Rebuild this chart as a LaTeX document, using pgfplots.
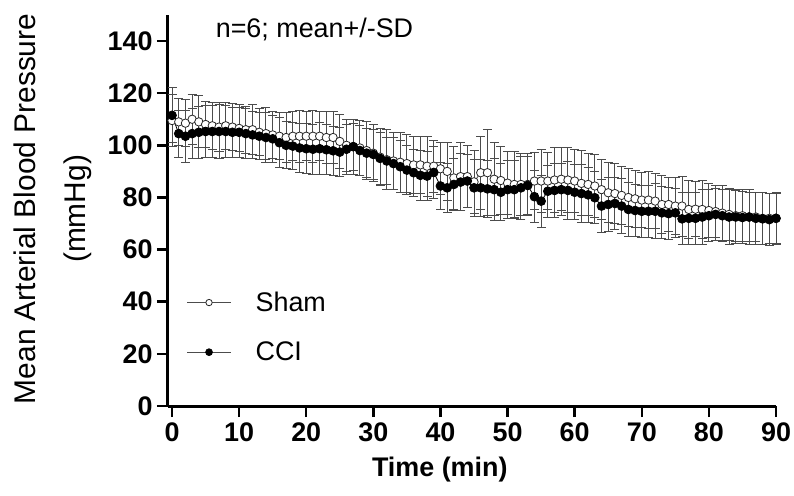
\documentclass[border=0pt]{standalone}
\usepackage{pgfplots}
\usepackage{pgfplotstable}
\pgfplotsset{compat=1.18}
\usepackage{fontspec}
\setmainfont{Liberation Sans}
\pgfplotstableread{
t s sd c cd
0 109.5 10 111.5 10.5
1 109 9 104.5 9
2 108.5 9 103.5 10
3 110 9.5 104.5 9.5
4 109 10 105 10
5 108 9 105.3 10
6 107.5 9 105.3 10
7 107 9.5 105.3 10.5
8 107.5 9 105.3 10
9 107 9 105 9.5
10 106.5 9 105 9.5
11 106 9 104.5 9.5
12 106 9.5 104 9
13 105 9 103.5 9
14 104.5 10 103 9.5
15 104 9 102.5 9
16 103.5 9 101 9.5
17 103 9.5 100 9
18 103.5 9.5 99.7 9
19 103.5 10 99 9.5
20 103.5 9.5 98.7 9.5
21 103.5 10 98.5 9.5
22 103.5 9.5 98.7 10
23 103 10 98.3 9.5
24 103 10 97.9 9.5
25 101.5 10.5 97.4 9.5
26 100 10 98.5 9.5
27 99.5 10.5 99.5 9
28 99 10.5 98 9.5
29 98 11 97 9.5
30 97 11 96.5 9.5
31 95.5 11 95 10
32 94.5 11.5 94 9
33 94 11 93 10
34 93.5 11.5 91.8 10
35 93 11 90.5 9.5
36 92.5 11 89.5 9
37 92.5 11 88.5 9.5
38 92 11.5 88.2 9.5
39 92 10 89.6 10
40 91 10 84.4 9
41 90 11 83.7 9.5
42 87.5 12 85 10
43 88 13 85.9 11
44 88 12 86.3 10
45 86 12 83.7 11
46 89.5 14 83.7 11
47 89.5 16.5 83.3 11
48 87 14 83 12
49 86.5 13 82 11
50 85.5 12 83 11
51 85 12.5 83 11
52 85 12 83.7 12
53 85 12 84.6 11
54 86.3 11 80.3 10
55 86.3 12 78.6 10
56 86.3 11 82.4 10
57 86.7 12.5 82.7 10.5
58 87 12 83 10
59 86.7 12.5 82.7 11
60 86.3 12 82 10.5
61 85.4 12.5 81.5 11
62 85 12 81 10.5
63 84.4 12 79.9 10
64 83 11.5 76.7 10
65 81.8 11.5 77.3 10.5
66 81.5 11.5 77.7 10
67 80.8 11 76.7 10.5
68 80 11 75.4 10.5
69 79.5 11 75 10
70 79 10.5 74.7 10
71 79 11 74.7 10
72 78.6 10.5 74.7 10.5
73 77.3 11 74.1 10
74 77.3 10.5 73.8 10
75 76.7 11 74.1 9.5
76 76.7 11.5 71.8 10
77 75.4 11 72 10
78 75.5 10.5 72 10
79 75.4 11 72.5 10.5
80 75 10.5 73 10
81 74.6 10 73.5 10
82 74 10.5 73 10
83 73.5 10 72.5 10.5
84 73 10 72.5 10
85 73 10 72.3 10
86 72.5 9.5 72.5 10.5
87 72.5 9.5 72 10
88 72 10 71.8 10
89 72 9.5 71.5 10
90 72 9.5 72 10
}\data
\definecolor{ebar}{gray}{0.3}
\begin{document}
\begin{tikzpicture}
\begin{axis}[
  scale only axis,
  width=608bp, height=391bp,
  xmin=-0.6, xmax=90, ymin=0, ymax=150,
  axis x line=bottom, axis y line=left,
  axis line style={-, line width=3bp, black},
  xtick={0,10,...,90}, ytick={0,20,...,140},
  tick align=outside, major tick length=11bp,
  tick style={black, line width=2.5bp},
  /pgf/number format/assume math mode=true,
  ticklabel style={font=\fontsize{27}{32}\selectfont\bfseries},
  xticklabel style={yshift=-2bp},
  yticklabel style={xshift=-1bp},
  xlabel={Time (min)},
  xlabel style={font=\fontsize{27}{32}\selectfont\bfseries, at={(axis description cs:0.447,0)}, anchor=center, yshift=-64bp},
  ylabel={Mean Arterial Blood Pressure\\(mmHg)},
  ylabel style={font=\fontsize{30}{50}\selectfont, align=center, at={(axis description cs:0,0.504)}, anchor=center, yshift=115bp},
  legend style={at={(axis description cs:0.03,0.297)}, anchor=north west, draw=none, fill=none, font=\fontsize{27}{32}\selectfont, row sep=25bp, inner sep=0pt},
  legend cell align=left,
  clip=false,
]
\addplot[draw=ebar, line width=0.8bp, mark=*, mark size=4.2bp,
  mark options={fill=white, draw=black!85, line width=0.8bp},
  legend image code/.code={\draw[ebar, line width=1.2bp] (0bp,0bp) -- (44bp,0bp); \draw[black!85, fill=white, line width=0.8bp] (22bp,0bp) circle (3.2bp);},
  error bars/.cd, y dir=both, y explicit,
  error bar style={ebar, line width=1bp},
  error mark options={rotate=90, mark size=4.5bp, ebar, line width=1bp}]
  table[x=t, y=s, y error=sd] {\data};
\addlegendentry{\hspace{22bp}Sham}
\addplot[draw=black, line width=0.8bp, mark=*, mark size=4.4bp,
  mark options={fill=black, draw=black},
  legend image code/.code={\draw[ebar, line width=1.2bp] (0bp,0bp) -- (44bp,0bp); \draw[black, fill=black] (22bp,0bp) circle (3.4bp);},
  error bars/.cd, y dir=both, y explicit,
  error bar style={ebar, line width=1bp},
  error mark options={rotate=90, mark size=4.5bp, ebar, line width=1bp}]
  table[x=t, y=c, y error=cd] {\data};
\addlegendentry{\hspace{22bp}CCI}
\node[anchor=west, font=\fontsize{27}{32}\selectfont] at (axis cs:6.0,144.6) {n=6; mean+/-SD};
\end{axis}
\pgfresetboundingbox
\path (-168bp,-90bp) rectangle (626bp,406bp);
\end{tikzpicture}
\end{document}
